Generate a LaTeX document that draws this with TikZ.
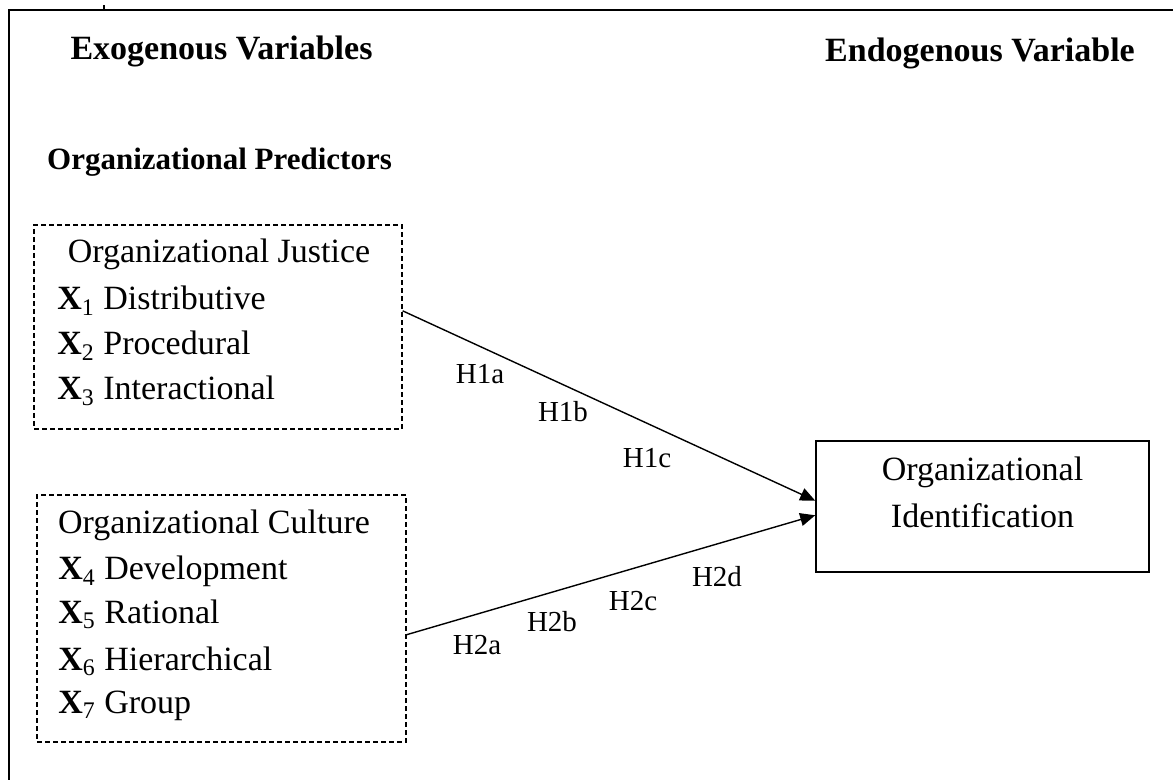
\documentclass[tikz,border=0pt]{standalone}
\usepackage{fontspec}
\setmainfont{Liberation Serif}
\usetikzlibrary{arrows.meta}

\begin{document}
\begin{tikzpicture}[x=0.5pt, y=-0.5pt,
    head/.style = {font=\fontsize{17}{20}\selectfont\bfseries, inner sep=0, anchor=base},
    sub/.style = {font=\fontsize{15.5}{18}\selectfont\bfseries, inner sep=0, anchor=base},
    title/.style = {font=\fontsize{17}{20}\selectfont, inner sep=0, anchor=base},
    item/.style = {font=\fontsize{17}{20}\selectfont, inner sep=0, anchor=base west},
    dashbox/.style = {draw, dashed, dash pattern=on 2.5pt off 1.5pt, line width=0.65pt},
    solidbox/.style = {draw, line width=0.8pt, align=center, font=\fontsize{17}{23.5}\selectfont},
    hyp/.style = {font=\fontsize{14.5}{17}\selectfont, inner sep=0},
    arr/.style = {line width=0.7pt, -{Triangle[length=7.5pt, width=6.5pt]}}]
    \useasboundingbox (0,0) rectangle (1173,780);

    % Cornice esterna
    \draw[line width=1pt] (1173,10) -- (9,10) -- (9,780);
    \draw[line width=1pt] (104,10) -- (104,5);

    % Titoli
    \node[head] (exo) at (221.5,60) {Exogenous Variables};
    \node[head] (endo) at (980,62) {Endogenous Variable};
    \node[sub] (pred) at (219.5,170) {Organizational Predictors};

    % Riquadri
    \node[dashbox, minimum width=184pt, minimum height=102pt] (justice) at (218,327) {};
    \node[dashbox, minimum width=184.5pt, minimum height=123.5pt] (culture) at (221.5,618.5) {};
    \node[solidbox, minimum width=166.5pt, minimum height=65.5pt, text depth=14.5pt] (ident) at (982.5,506.5) {Organizational\\Identification};

    % Giustizia
    \node[title] (jt) at (219,263) {Organizational Justice};
    \node[item] (x1) at (57,310) {\textbf{X}\textsubscript{1} Distributive};
    \node[item] (x2) at (57,355) {\textbf{X}\textsubscript{2} Procedural};
    \node[item] (x3) at (57,400) {\textbf{X}\textsubscript{3} Interactional};

    % Cultura
    \node[title] (ct) at (214,533) {Organizational Culture};
    \node[item] (x4) at (58,580) {\textbf{X}\textsubscript{4} Development};
    \node[item] (x5) at (58,623) {\textbf{X}\textsubscript{5} Rational};
    \node[item] (x6) at (58,670) {\textbf{X}\textsubscript{6} Hierarchical};
    \node[item] (x7) at (58,713) {\textbf{X}\textsubscript{7} Group};

    \draw[arr] (justice.5.3) -- (ident.178.5);
    \draw[arr] (culture.355.8) -- (ident.183.6);

    \node[hyp] (h1a) at (480,374) {H1a};
    \node[hyp] (h1b) at (563,412) {H1b};
    \node[hyp] (h1c) at (647,458) {H1c};
    \node[hyp] (h2a) at (477,645) {H2a};
    \node[hyp] (h2b) at (552,622) {H2b};
    \node[hyp] (h2c) at (633,601) {H2c};
    \node[hyp] (h2d) at (717,577) {H2d};


\end{tikzpicture}
\end{document}
